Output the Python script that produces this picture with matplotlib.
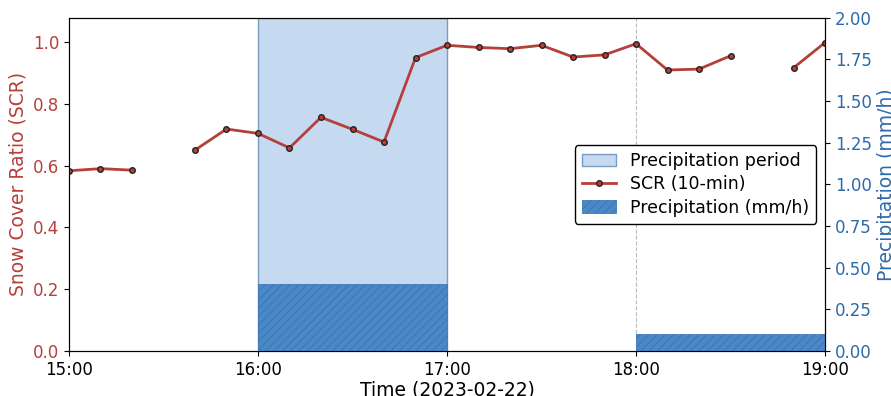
import matplotlib
matplotlib.use("Agg")
import matplotlib.pyplot as plt
import matplotlib.dates as mdates
import numpy as np
import pandas as pd

# 10-min snow cover ratio, NaN = missing
times = pd.date_range("2023-02-22 15:00", "2023-02-22 19:00", freq="10min")
scr = [0.583, 0.590, 0.585, np.nan, 0.650, 0.718, 0.704, 0.657, 0.756, 0.717,
       0.676, 0.949, 0.989, 0.982, 0.978, 0.989, 0.951, 0.958, 0.994, 0.909,
       0.912, 0.955, np.nan, 0.916, 0.998]

# hourly precipitation (bar starts at hour)
precip_hours = pd.to_datetime(["2023-02-22 16:00", "2023-02-22 17:00", "2023-02-22 18:00"])
precip_mmh = [0.4, 0.0, 0.1]

period_start = pd.Timestamp("2023-02-22 16:00")
period_end = pd.Timestamp("2023-02-22 17:00")

red = '#b5403a'
blue = '#2e6aa8'

plt.rcParams['hatch.linewidth'] = 0.8

fig, ax1 = plt.subplots(figsize=(8.91, 3.96), dpi=100)
fig.subplots_adjust(left=0.0774, right=0.926, top=0.955, bottom=0.1136)

span = ax1.axvspan(period_start, period_end, facecolor='#c5d9f0', edgecolor='#7a9cc0',
                   linewidth=1, label='Precipitation period', zorder=0)
ax1.axvline(pd.Timestamp("2023-02-22 18:00"), color='#bbbbbb', linestyle='--', linewidth=0.8, zorder=0.5)

line, = ax1.plot(times, scr, color=red, linewidth=2, marker='o', markersize=4,
                 markerfacecolor=red, markeredgecolor='#222222', markeredgewidth=1,
                 label='SCR (10-min)', zorder=3)

ax1.set_xlim(times[0], times[-1])
ax1.set_ylim(0, np.nanmax(scr) * 1.08)
ax1.set_ylabel('Snow Cover Ratio (SCR)', color=red, fontsize=13.5)
ax1.set_xlabel('Time (2023-02-22)', fontsize=13.5, labelpad=1)
ax1.tick_params(axis='y', labelcolor=red, labelsize=12)
ax1.tick_params(axis='x', labelsize=12)
ax1.xaxis.set_major_locator(mdates.HourLocator())
ax1.xaxis.set_major_formatter(mdates.DateFormatter('%H:%M'))

ax2 = ax1.twinx()
bars = ax2.bar(precip_hours, precip_mmh, width=1 / 24, align='edge', color='#4a88c7',
               edgecolor='#3f78b4', linewidth=0.6, hatch='////', label='Precipitation (mm/h)')
ax2.set_ylim(0, 2.0)
ax2.set_yticks(np.arange(0, 2.01, 0.25))
ax2.yaxis.set_major_formatter(plt.FormatStrFormatter('%.2f'))
ax2.set_ylabel('Precipitation (mm/h)', color=blue, fontsize=13.5)
ax2.tick_params(axis='y', labelcolor=blue, labelsize=12)

ax2.legend([span, line, bars], ['Precipitation period', 'SCR (10-min)', 'Precipitation (mm/h)'],
           loc='center right', fontsize=12.5, labelspacing=0.3, framealpha=1, edgecolor='black')

fig.savefig('out.png', dpi=100)
